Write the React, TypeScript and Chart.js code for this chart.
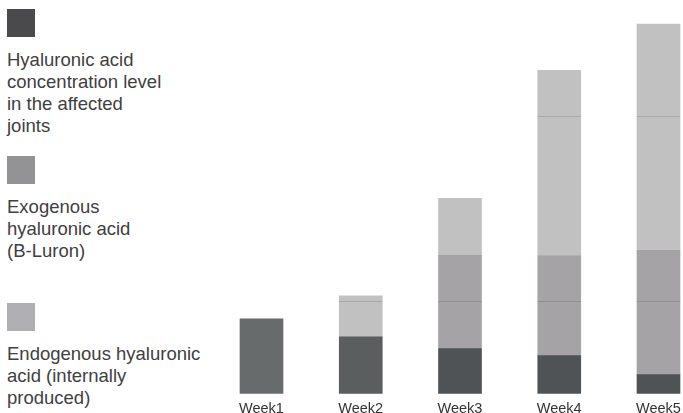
import React, { useEffect, useRef } from "react";
import { Chart, registerables } from "chart.js";

Chart.register(...registerables);

const weeks = ["Week1", "Week2", "Week3", "Week4", "Week5"];
const jointLevel = [19.0, 14.4, 11.4, 9.6, 4.8];
const exogenous = [null, null, 23.7, 25.4, 31.6];
const endogenous = [null, 10.4, 14.5, 47.1, 57.5];
const markerValues = [23.6, 70.4];

const jointColors = ["#686b6b", "#5a5e5e", "#505356", "#505356", "#505356"];
const exoColor = "#a5a3a6";
const endoColor = "#c1c1c1";

const legendItems = [
  { color: "#4a4a4c", lines: ["Hyaluronic acid", "concentration level", "in the affected", "joints"], boxTop: 9, textTop: 49 },
  { color: "#939395", lines: ["Exogenous", "hyaluronic acid", "(B-Luron)"], boxTop: 156, textTop: 196 },
  { color: "#b0b0b4", lines: ["Endogenous hyaluronic", "acid (internally", "produced)"], boxTop: 303, textTop: 343 },
];

const markerPlugin = {
  id: "markerLines",
  afterDatasetsDraw(chart: any) {
    const { ctx, scales } = chart;
    ctx.save();
    ctx.globalCompositeOperation = "source-atop";
    ctx.strokeStyle = "rgba(0,0,0,0.12)";
    ctx.lineWidth = 1;
    markerValues.forEach((v) => {
      const y = Math.round(scales.y.getPixelForValue(v)) + 0.5;
      ctx.beginPath();
      ctx.moveTo(0, y);
      ctx.lineTo(chart.width, y);
      ctx.stroke();
    });
    ctx.restore();
  },
};

export default function App() {
  const canvasRef = useRef<HTMLCanvasElement | null>(null);

  useEffect(() => {
    if (!canvasRef.current) return;
    const chart = new Chart(canvasRef.current, {
      type: "bar",
      data: {
        labels: weeks,
        datasets: [
          { label: "Joint level", data: jointLevel, backgroundColor: jointColors, clip: false as any },
          { label: "Exogenous", data: exogenous as any, backgroundColor: exoColor, clip: false as any },
          { label: "Endogenous", data: endogenous as any, backgroundColor: endoColor, clip: false as any },
        ],
      },
      options: {
        animation: false,
        responsive: true,
        maintainAspectRatio: false,
        layout: { padding: { left: 261.5, right: 24.5, top: 0, bottom: 0 } },
        datasets: { bar: { barThickness: 43, borderWidth: 0 } },
        plugins: { legend: { display: false }, tooltip: { enabled: false } },
        scales: {
          x: {
            stacked: true,
            offset: false,
            grid: { display: false, drawTicks: false },
            border: { display: false },
            ticks: {
              padding: 2,
              color: "#333333",
              font: { family: "'Liberation Sans', Arial, sans-serif", size: 14.5, lineHeight: 1.83 },
              maxRotation: 0,
              autoSkip: false,
            },
          },
          y: { stacked: true, display: false, min: 0, max: 100 },
        },
      },
      plugins: [markerPlugin],
    });
    return () => chart.destroy();
  }, []);

  return (
    <div style={{ position: "fixed", left: 0, top: 0, width: 683, height: 413, background: "#ffffff", overflow: "hidden" }}>
      {legendItems.map((item, i) => (
        <React.Fragment key={i}>
          <div style={{ position: "absolute", left: 7, top: item.boxTop, width: 28, height: 28, background: item.color }} />
          <div
            style={{
              position: "absolute",
              left: 7,
              top: item.textTop,
              fontFamily: "'Liberation Sans', Arial, sans-serif",
              fontSize: 18.5,
              lineHeight: "22px",
              color: "#404040",
              whiteSpace: "nowrap",
            }}
          >
            {item.lines.map((l, j) => (
              <div key={j}>{l}</div>
            ))}
          </div>
        </React.Fragment>
      ))}
      <div style={{ position: "absolute", left: 0, top: 0, width: 683, height: 424 }}>
        <canvas ref={canvasRef} />
      </div>
    </div>
  );
}
